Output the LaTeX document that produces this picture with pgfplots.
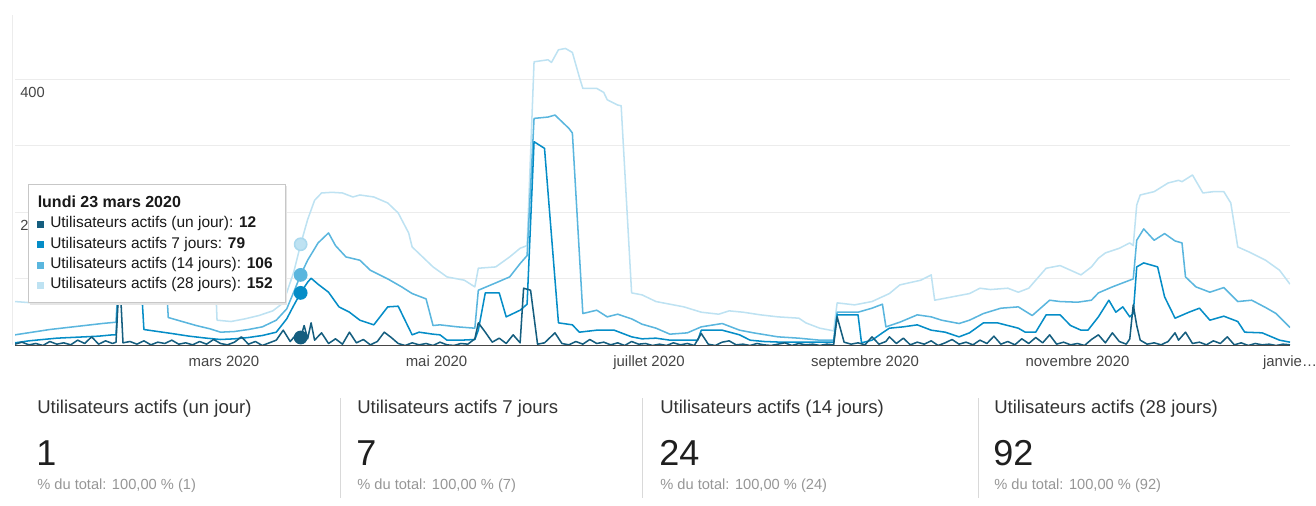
\documentclass[border=0pt]{standalone}
\usepackage{fontspec}
\setmainfont{Liberation Sans}
\usepackage{pgfplots}
\pgfplotsset{compat=1.18}
\definecolor{cOne}{RGB}{21,94,127}
\definecolor{cSeven}{RGB}{5,141,199}
\definecolor{cFourteen}{RGB}{90,182,222}
\definecolor{cTwentyEight}{RGB}{190,226,242}
\definecolor{gridc}{RGB}{236,236,236}
\definecolor{labc}{RGB}{68,68,68}
\definecolor{basec}{RGB}{70,70,70}
\definecolor{subc}{RGB}{150,150,150}

\begin{document}
\begin{tikzpicture}
\path[use as bounding box] (0,0) rectangle (987pt,379.5pt);
\begin{axis}[
  at={(11.25pt,120.375pt)}, anchor=south west,
  scale only axis, width=956.25pt, height=249.75pt,
  xmin=0, xmax=366, ymin=0, ymax=500,
  axis line style={draw=none},
  ytick={100,200,300,400}, yticklabels={},
  ymajorgrids, grid style={gridc, line width=0.75pt},
  xtick={60,121,182,244,305,366},
  xticklabels={mars 2020,mai 2020,juillet 2020,septembre 2020,novembre 2020,janvie…},
  major tick length=0pt,
  xticklabel style={font=\fontsize{11.2}{13}\selectfont, text=labc, anchor=base, yshift=-15.4pt},
  every axis plot/.append style={line width=1.15pt, line join=round},
]
\node[anchor=north west, inner sep=0, xshift=3.75pt, yshift=-5.6pt, text=labc,
  font=\fontsize{11}{13}\selectfont] at (axis cs:0,400) {400};
\node[anchor=north west, inner sep=0, xshift=3.75pt, yshift=-5.6pt, text=labc,
  font=\fontsize{11}{13}\selectfont] at (axis cs:0,200) {200};

% 28 jours
\addplot[cTwentyEight] coordinates {
(0,66)(5,64)(10,62)(15,63)(20,64)(25,66)(29,68)(30,175)(57,172)(58,38)(62,36)(66,40)(70,45)(74,52)(77,64)(80,110)(82,152)
(84,189)(86,218)(88,229)(91,230)(94,229)(97,223)(99,226)(103,223)(107,214)(110,199)(113,169)(114,148)(116,138)(120,118)
(124,103)(129,98)(132,88)(133,116)(138,118)(142,133)(145,146)(147,150)(149,426)(153,429)(154,425)(156,444)(158,446)(160,440)
(162,403)(163,386)(167,386)(169,380)(170,369)(173,361)(174,360)(177,79)(180,76)(184,66)(188,62)(192,58)(197,50)(202,47)
(205,52)(209,50)(214,46)(219,43)(225,41)(227,34)(231,26)(235,22)(236,64)(241,61)(246,66)(251,78)(254,91)(260,98)(263,106)
(264,68)(269,73)(274,78)(277,86)(280,84)(285,86)(288,80)(291,86)(296,116)(300,120)(303,113)(306,106)(309,118)(311,131)
(313,139)(317,146)(320,154)(321,150)(322,211)(323,226)(327,231)(331,244)(334,248)(335,246)(338,256)(341,229)(344,231)
(347,231)(349,214)(351,148)(354,141)(359,128)(363,113)(366,92)};
% 14 jours
\addplot[cFourteen] coordinates {
(0,16)(5,20)(10,24)(15,27)(20,30)(25,33)(29,35)(30,135)(43,132)(44,42)(48,36)(52,30)(56,25)(59,20)(63,21)(67,24)(71,28)
(75,38)(78,55)(80,80)(82,106)(84,128)(87,154)(90,169)(92,150)(95,133)(99,128)(102,113)(107,100)(111,88)(114,78)(118,70)
(120,30)(122,31)(127,28)(132,26)(133,83)(138,94)(142,103)(145,123)(147,135)(149,341)(153,343)(155,346)(159,326)(160,319)
(163,48)(167,53)(170,43)(173,47)(177,40)(180,32)(184,26)(188,17)(193,19)(197,28)(203,33)(208,23)(212,19)(219,13)(225,11)
(231,8)(235,8)(236,50)(242,50)(246,56)(249,62)(250,28)(254,35)(259,46)(263,43)(266,38)(271,33)(274,38)(278,48)(283,56)
(288,58)(292,45)(297,68)(300,66)(305,65)(309,68)(311,79)(315,88)(319,96)(321,100)(322,158)(324,175)(327,158)(330,168)
(333,157)(335,154)(336,103)(339,88)(343,80)(347,87)(351,66)(355,68)(359,57)(362,48)(366,27)};
% 7 jours
\addplot[cSeven] coordinates {
(0,4)(4,7)(8,9)(12,11)(16,12)(20,13)(24,14)(28,16)(29,16)(30,118)(36,115)(37,24)(41,21)(45,18)(50,14)(55,11)(59,9)
(63,10)(67,12)(71,15)(75,20)(78,40)(80,60)(82,79)(84,95)(85,101)(87,92)(90,80)(93,58)(96,50)(99,38)(103,31)(107,58)
(110,59)(114,16)(116,20)(120,17)(122,16)(124,8)(128,8)(132,9)(133,23)(135,79)(139,79)(141,43)(145,53)(147,62)(149,306)
(152,296)(156,34)(160,31)(162,20)(167,23)(172,23)(177,13)(180,10)(184,11)(188,8)(193,8)(196,8)(197,23)(203,23)(208,16)
(211,8)(215,6)(220,5)(225,5)(230,5)(235,5)(236,46)(242,46)(243,4)(246,8)(249,19)(251,26)(255,28)(259,31)(263,23)(267,20)
(271,13)(274,19)(278,34)(282,34)(285,30)(288,26)(290,20)(293,20)(296,46)(300,46)(303,30)(306,23)(308,23)(311,43)(314,68)
(316,50)(318,58)(320,43)(321,48)(322,118)(324,124)(328,118)(330,73)(333,41)(337,50)(340,56)(343,38)(347,44)(351,36)
(353,20)(358,19)(363,8)(366,5)};
% un jour
\addplot[cOne] coordinates {
(0,2)(2,5)(4,1)(6,3)(8,0)(10,6)(12,2)(14,4)(16,1)(18,8)(20,3)(22,13)(24,2)(26,7)(28,3)(29,5)(30,110)(31,4)(33,6)(35,2)
(37,7)(39,1)(41,5)(43,3)(45,8)(47,2)(49,4)(51,1)(53,6)(55,2)(57,9)(59,3)(61,1)(63,5)(65,13)(67,2)(69,6)(71,0)(73,4)(75,8)
(77,23)(79,6)(81,18)(82,12)(83,30)(84,10)(85,34)(86,8)(88,19)(90,3)(92,10)(94,2)(96,20)(98,4)(100,9)(102,1)(104,6)
(106,20)(108,12)(110,3)(112,0)(114,4)(116,1)(118,3)(120,0)(122,5)(124,1)(126,0)(128,3)(130,2)(132,10)(133,34)(135,20)
(137,5)(139,11)(141,3)(143,16)(145,4)(146,86)(148,83)(150,2)(152,4)(155,19)(157,3)(159,1)(161,6)(163,2)(165,9)(167,3)
(169,5)(171,1)(173,4)(175,0)(177,6)(179,2)(181,3)(183,0)(185,2)(187,0)(189,4)(191,1)(193,3)(195,0)(197,18)(199,2)(201,0)
(203,5)(205,7)(207,1)(209,2)(211,0)(213,3)(215,1)(217,0)(219,2)(221,4)(223,0)(225,3)(227,1)(229,2)(231,0)(233,2)(235,1)
(236,43)(238,5)(240,2)(242,4)(244,1)(246,13)(248,2)(250,6)(251,13)(253,3)(255,11)(257,1)(259,5)(261,2)(263,7)(265,0)
(267,4)(269,9)(271,2)(273,5)(275,1)(277,8)(279,3)(281,14)(283,2)(285,6)(287,1)(289,10)(291,3)(293,12)(295,4)(297,16)
(299,2)(301,5)(303,1)(305,3)(307,0)(309,9)(311,16)(313,4)(315,19)(317,6)(319,2)(320,10)(321,61)(322,30)(323,8)(325,2)
(327,4)(329,1)(331,6)(333,19)(334,8)(336,20)(338,3)(340,5)(342,1)(344,7)(346,3)(348,13)(350,1)(352,4)(354,0)(356,3)
(358,1)(360,2)(362,0)(364,2)(366,1)};

\draw[basec, line width=1pt] (axis cs:0,0) -- (axis cs:366,0);

% points du 23 mars
\addplot[only marks, mark=*, mark size=4.6pt, mark options={fill=cTwentyEight, draw=cTwentyEight!80!cFourteen}] coordinates {(82,152)};
\addplot[only marks, mark=*, mark size=4.6pt, mark options={fill=cFourteen, draw=cFourteen}] coordinates {(82,106)};
\addplot[only marks, mark=*, mark size=4.6pt, mark options={fill=cSeven, draw=cSeven}] coordinates {(82,79)};
\addplot[only marks, mark=*, mark size=4.6pt, mark options={fill=cOne, draw=cOne}] coordinates {(82,12)};
\end{axis}

\begin{scope}[x=0.75pt, y=0.75pt]
% left border line
\draw[gridc, line width=0.75pt] (12,161) -- (12,491);
% tooltip
\fill[black!10] (29.5,201) rectangle (287,319.5);
\filldraw[fill=white, draw=black!22, line width=0.75pt] (28,203) rectangle (285,321);
\node[anchor=base west, inner sep=0, font=\fontsize{12}{14}\selectfont\bfseries, text=black!90] at (37.5,298) {lundi 23 mars 2020};
\fill[cOne] (37,278) rectangle (44,285);
\node[anchor=base west, inner sep=0, font=\fontsize{11.6}{14}\selectfont, text=black!90] at (50,278) {Utilisateurs actifs (un jour): \textbf{12}};
\fill[cSeven] (37,257.5) rectangle (44,264.5);
\node[anchor=base west, inner sep=0, font=\fontsize{11.6}{14}\selectfont, text=black!90] at (50,257.5) {Utilisateurs actifs 7 jours: \textbf{79}};
\fill[cFourteen] (37,237) rectangle (44,244);
\node[anchor=base west, inner sep=0, font=\fontsize{11.6}{14}\selectfont, text=black!90] at (50,237) {Utilisateurs actifs (14 jours): \textbf{106}};
\fill[cTwentyEight] (37,217) rectangle (44,224);
\node[anchor=base west, inner sep=0, font=\fontsize{11.6}{14}\selectfont, text=black!90] at (50,217) {Utilisateurs actifs (28 jours): \textbf{152}};

% cartes de synthese
\foreach \sx in {340,642,978} {\draw[black!15, line width=0.75pt] (\sx,8) -- (\sx,108);}
\foreach \tx/\title/\val in {37/{Utilisateurs actifs (un jour)}/1, 357/{Utilisateurs actifs 7 jours}/7,
                             660/{Utilisateurs actifs (14 jours)}/24, 994/{Utilisateurs actifs (28 jours)}/92} {
  \node[anchor=base west, inner sep=0, font=\fontsize{13.9}{16}\selectfont, text=black!80] at (\tx,92) {\title};
  \node[anchor=base west, inner sep=0, font=\fontsize{27}{30}\selectfont, text=black!88] at (\tx-1,40) {\val};
  \node[anchor=base west, inner sep=0, font=\fontsize{11}{12}\selectfont, text=subc] at (\tx,16) {\% du total: 100,00 \% (\val)};
}
\end{scope}
\end{tikzpicture}
\end{document}
